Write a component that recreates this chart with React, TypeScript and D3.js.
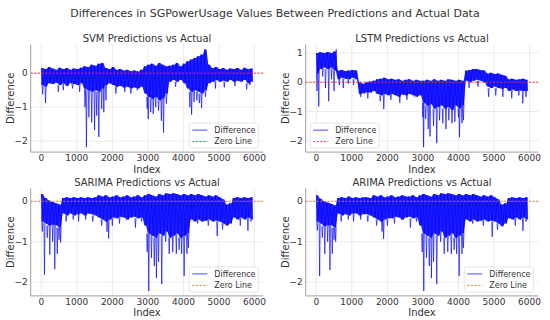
import React, { useEffect, useRef } from "react";
import * as d3 from "d3";

const STEP = 100;
const N_POINTS = 5950;

const svmHi = [
  0.15, 0.12, 0.18, 0.14, 0.1, 0.16, 0.12, 0.15, 0.1, 0.14, 0.12, 0.16,
  0.2, 0.18, 0.25, 0.22, 0.28, 0.3,
  0.15, 0.12, 0.18, 0.1, 0.12, 0.08, 0.1, 0.06, 0.08, 0.05, 0.1,
  0.2, 0.25, 0.28, 0.22, 0.3, 0.25, 0.2,
  0.22, 0.25, 0.3, 0.2, 0.28,
  0.35, 0.4, 0.45, 0.5, 0.55, 0.7,
  0.25, 0.15, 0.18, 0.12, 0.15, 0.1, 0.14, 0.12, 0.15, 0.1, 0.16, 0.12, 0.14,
];
const svmLo = [
  -0.35, -0.4, -0.3, -0.32, -0.28, -0.35, -0.3, -0.38, -0.3, -0.32, -0.35, -0.3,
  -0.45, -0.5, -0.55, -0.5, -0.55, -0.45,
  -0.35, -0.3, -0.35, -0.4, -0.38, -0.42, -0.4, -0.45, -0.42, -0.45, -0.4,
  -0.6, -0.7, -0.75, -0.7, -0.8, -0.75, -0.6,
  -0.25, -0.2, -0.25, -0.2, -0.3,
  -0.45, -0.55, -0.5, -0.55, -0.6, -0.5,
  -0.3, -0.25, -0.2, -0.25, -0.22, -0.25, -0.2, -0.25, -0.22, -0.25, -0.2, -0.3, -0.25,
];
const svmSpikeIdx = [
  40, 120, 480, 620, 880, 1080, 1230, 1270, 1340, 1420, 1500, 1560, 1620, 1700, 1760, 1820,
  2100, 2350, 2520, 2700, 2980, 3010, 3080, 3150, 3220, 3300, 3380, 3440, 3520, 3780,
  4180, 4230, 4300, 4380, 4450, 4510, 4620, 4900, 5150, 5450, 5780, 5870,
];
const svmSpikeVal = [
  -0.62, -0.88, -0.55, -0.5, -0.45, -0.55, -1.0, -2.18, -1.3, -1.45, -1.68, -1.25, -1.88, -1.05, -1.15, -0.8,
  -0.6, -0.55, -0.6, -0.5, -1.05, -1.35, -1.15, -1.2, -1.0, -1.1, -1.4, -1.75, -0.9, -0.4,
  -1.0, -1.22, -0.85, -0.8, -0.88, -1.03, -0.7, -0.45, -0.42, -0.38, -0.48, -0.35,
];

const lstmHi = [
  1.0, 1.02, 1.0, 1.03, 1.0, 1.05,
  0.4, 0.42, 0.38, 0.4, 0.42, 0.4,
  0.0, -0.05, 0.0, 0.02, 0.05,
  0.1, 0.12, 0.15, 0.1, 0.12, 0.08, 0.1, 0.05, 0.08, 0.1, 0.05, 0.08, 0.05,
  0.05, 0.08, 0.05, 0.1, 0.05, 0.08, 0.05, 0.1, 0.08, 0.05, 0.08, 0.05,
  0.4, 0.42, 0.45, 0.45, 0.42, 0.4,
  0.3, 0.32, 0.28, 0.3, 0.25, 0.22,
  0.1, 0.12, 0.08, 0.1, 0.12, 0.08,
];
const lstmLo = [
  0.3, 0.45, 0.5, 0.45, 0.5, 0.4,
  0.1, 0.15, 0.12, 0.1, 0.15, 0.1,
  -0.4, -0.38, -0.35, -0.35, -0.3,
  -0.4, -0.45, -0.4, -0.45, -0.4, -0.45, -0.5, -0.42, -0.45, -0.4, -0.45, -0.5, -0.45,
  -0.7, -0.8, -0.75, -0.9, -0.85, -0.8, -0.9, -0.85, -0.95, -0.8, -0.9, -0.8,
  0.05, 0.0, 0.05, 0.08, 0.05, 0.0,
  -0.15, -0.2, -0.15, -0.2, -0.22, -0.2,
  -0.3, -0.25, -0.3, -0.28, -0.3, -0.3,
];
const lstmSpikeIdx = [
  20, 70, 180, 260, 350, 430, 500, 560, 650, 760, 900, 1050, 1250, 1450,
  1800, 1900, 2100, 2350, 2550, 2750, 3000, 3020, 3080, 3150, 3200, 3300, 3390, 3470,
  3560, 3650, 3730, 3820, 3900, 4000, 4030, 4100, 4140, 4300, 4550, 4850, 5050, 5250,
  5500, 5700, 5810, 5900,
];
const lstmSpikeVal = [
  -0.3, -0.83, 0.2, -0.2, -0.65, 0.1, -0.3, 1.12, -0.1, -0.2, -0.05, -0.1, -0.5, -0.55,
  -0.65, -0.92, -0.6, -0.7, -0.6, -0.5, -1.2, -2.22, -1.25, -1.6, -1.85, -1.5, -2.08, -1.3,
  -1.4, -1.6, -1.3, -1.4, -1.35, -1.2, -1.88, -1.4, -1.3, -0.2, -0.15, -0.5, -0.45, -0.5,
  -0.55, -0.45, -0.72, -0.5,
];

const sarimaHi = [
  0.18, 0.08, 0.02, -0.02, -0.05, -0.08,
  0.08, 0.1, 0.08, 0.1, 0.08, 0.1, 0.08, 0.1, 0.08, 0.1,
  0.15, 0.12, 0.15, 0.1, 0.12, 0.15, 0.1, 0.12, 0.15, 0.1, 0.12, 0.15, 0.1,
  0.15, 0.18, 0.15, 0.12, 0.18, 0.15, 0.2, 0.18, 0.2, 0.18, 0.15, 0.18, 0.15,
  0.18, 0.15, 0.18, 0.15, 0.12, 0.15, 0.12, 0.15, 0.1, 0.05,
  -0.08, -0.05, 0.08, 0.1, 0.08, 0.1, 0.08, 0.1,
];
const sarimaLo = [
  -0.5, -0.55, -0.6, -0.58, -0.6, -0.65,
  -0.3, -0.35, -0.3, -0.35, -0.32, -0.3, -0.35, -0.3, -0.32, -0.35,
  -0.4, -0.45, -0.5, -0.45, -0.4, -0.42, -0.38, -0.4, -0.45, -0.4, -0.38, -0.42, -0.4,
  -0.6, -0.8, -0.85, -0.9, -0.8, -0.85, -0.75, -0.9, -0.85, -0.8, -0.9, -0.85, -0.8,
  -0.45, -0.5, -0.45, -0.5, -0.48, -0.45, -0.5, -0.48, -0.5, -0.55,
  -0.6, -0.55, -0.4, -0.45, -0.4, -0.45, -0.4, -0.45,
];
const sarimaSpikeIdx = [
  30, 90, 170, 240, 320, 380, 450, 500, 545, 700, 900, 1050, 1250, 1450,
  1700, 1850, 1895, 2000, 2200, 2400, 2650, 2820, 2980, 3025, 3100, 3180, 3240, 3300,
  3390, 3500, 3600, 3700, 3800, 3880, 3950, 4020, 4100, 4140, 4400, 4700, 4950, 5100,
  5600, 5815, 5900,
];
const sarimaSpikeVal = [
  -0.75, -1.82, -0.9, -1.32, -1.0, -1.68, -1.3, -0.95, -1.02, -0.5, -0.45, -0.5, -0.45, -0.5,
  -0.6, -0.75, -0.92, -0.6, -0.55, -0.45, -0.65, -0.5, -1.25, -2.22, -1.4, -1.6, -1.9, -1.5,
  -2.05, -1.0, -1.3, -1.25, -1.3, -1.2, -1.3, -1.85, -1.3, -1.15, -0.55, -0.6, -0.86, -0.7,
  -0.6, -0.73, -0.5,
];

const arimaHi = [
  0.15, 0.06, 0.0, -0.03, -0.06, -0.1,
  0.08, 0.1, 0.08, 0.12, 0.08, 0.1, 0.08, 0.1, 0.1, 0.08,
  0.15, 0.12, 0.15, 0.1, 0.12, 0.15, 0.1, 0.12, 0.15, 0.12, 0.12, 0.15, 0.1,
  0.15, 0.18, 0.15, 0.12, 0.18, 0.15, 0.2, 0.18, 0.2, 0.18, 0.15, 0.18, 0.15,
  0.18, 0.15, 0.18, 0.15, 0.12, 0.15, 0.12, 0.15, 0.1, 0.05,
  -0.08, -0.05, 0.08, 0.1, 0.08, 0.1, 0.08, 0.1,
];
const arimaLo = [
  -0.5, -0.55, -0.62, -0.6, -0.6, -0.65,
  -0.3, -0.35, -0.32, -0.35, -0.3, -0.3, -0.35, -0.32, -0.32, -0.35,
  -0.4, -0.45, -0.5, -0.45, -0.42, -0.42, -0.38, -0.4, -0.45, -0.4, -0.38, -0.42, -0.4,
  -0.6, -0.8, -0.85, -0.9, -0.8, -0.85, -0.75, -0.9, -0.85, -0.8, -0.9, -0.85, -0.8,
  -0.45, -0.5, -0.45, -0.5, -0.48, -0.45, -0.5, -0.48, -0.5, -0.55,
  -0.62, -0.55, -0.42, -0.45, -0.4, -0.45, -0.4, -0.45,
];
const arimaSpikeIdx = [
  30, 95, 170, 240, 320, 385, 450, 500, 545, 700, 900, 1050, 1250, 1450,
  1700, 1850, 1895, 2000, 2200, 2400, 2650, 2820, 2980, 3025, 3100, 3180, 3240, 3300,
  3390, 3500, 3600, 3700, 3800, 3880, 3950, 4020, 4100, 4140, 4400, 4700, 4950, 5100,
  5600, 5815, 5900,
];
const arimaSpikeVal = [
  -0.72, -1.85, -0.9, -1.3, -1.0, -1.7, -1.3, -0.95, -1.0, -0.5, -0.45, -0.5, -0.45, -0.5,
  -0.6, -0.75, -0.93, -0.6, -0.55, -0.45, -0.65, -0.5, -1.25, -2.22, -1.4, -1.6, -1.9, -1.5,
  -2.05, -1.0, -1.3, -1.25, -1.3, -1.2, -1.3, -1.85, -1.3, -1.15, -0.55, -0.6, -0.88, -0.7,
  -0.6, -0.73, -0.5,
];

const X_TICKS = [0, 1000, 2000, 3000, 4000, 5000, 6000];
const Y_TICKS = [-2, -1, 0, 1];

const panels = [
  { title: "SVM Predictions vs Actual", hi: svmHi, lo: svmLo, sIdx: svmSpikeIdx, sVal: svmSpikeVal, col: 0, row: 0, legend: "right", zero: "#ff2a2a" },
  { title: "LSTM Predictions vs Actual", hi: lstmHi, lo: lstmLo, sIdx: lstmSpikeIdx, sVal: lstmSpikeVal, col: 1, row: 0, legend: "left", zero: "#ff2a2a" },
  { title: "SARIMA Predictions vs Actual", hi: sarimaHi, lo: sarimaLo, sIdx: sarimaSpikeIdx, sVal: sarimaSpikeVal, col: 0, row: 1, legend: "right", zero: "#c8823c" },
  { title: "ARIMA Predictions vs Actual", hi: arimaHi, lo: arimaLo, sIdx: arimaSpikeIdx, sVal: arimaSpikeVal, col: 1, row: 1, legend: "right", zero: "#c8823c" },
];

const TEXT = "#333";
const FONT = "DejaVu Sans, sans-serif";

const App = () => {
  const ref = useRef<SVGSVGElement>(null);

  useEffect(() => {
    const svg = d3.select(ref.current);
    svg.selectAll("*").remove();

    const colLeft = [30.7, 305.7];
    const rowTop = [44.5, 188.3];
    const axW = 232.6;
    const axH = 107.6;

    svg.append("text")
      .attr("x", 275).attr("y", 16.5)
      .attr("text-anchor", "middle")
      .attr("font-size", 11)
      .attr("fill", TEXT)
      .text("Differences in SGPowerUsage Values Between Predictions and Actual Data");

    const fmt = (d: number) => (d < 0 ? "\u2212" + Math.abs(d) : String(d));

    panels.forEach((p, pi) => {
      const g = svg.append("g")
        .attr("transform", `translate(${colLeft[p.col]},${rowTop[p.row]})`);

      const xPad = N_POINTS * 0.05;
      const x = d3.scaleLinear().domain([-xPad, N_POINTS + xPad]).range([0, axW]);
      const [mn, mx] = d3.extent([...p.hi, ...p.lo, ...p.sVal]) as [number, number];
      const yPad = (mx - mn) * 0.05;
      const y = d3.scaleLinear().domain([mn - yPad, mx + yPad]).range([axH, 0]);

      // grid
      const grid = g.append("g").attr("stroke", "#e6e6e6").attr("stroke-width", 0.8);
      grid.selectAll("line.gx").data(X_TICKS).join("line")
        .attr("x1", d => x(d)).attr("x2", d => x(d)).attr("y1", 0).attr("y2", axH);
      const yt = Y_TICKS.filter(d => d >= y.domain()[0] && d <= y.domain()[1]);
      grid.selectAll("line.gy").data(yt).join("line")
        .attr("x1", 0).attr("x2", axW).attr("y1", d => y(d)).attr("y2", d => y(d));

      const clipId = `clip-${pi}`;
      g.append("clipPath").attr("id", clipId)
        .append("rect").attr("width", axW).attr("height", axH);
      const plot = g.append("g").attr("clip-path", `url(#${clipId})`);

      // spikes drawn first, dense band on top
      const line = d3.line<[number, number]>().x(d => x(d[0])).y(d => y(d[1]));
      const spikes = p.sIdx.map((idx, k) => {
        const b = Math.max(0, Math.min(p.hi.length - 1, Math.round(idx / STEP)));
        const v = p.sVal[k];
        const base = v > p.hi[b] ? p.hi[b] : p.lo[b];
        return [[idx - 15, base], [idx, v], [idx + 15, base]] as [number, number][];
      });
      plot.append("g").selectAll("path").data(spikes).join("path")
        .attr("d", line)
        .attr("fill", "none")
        .attr("stroke", "#0000ff")
        .attr("stroke-width", 1)
        .attr("stroke-opacity", 0.65);

      const zig: [number, number][] = [];
      p.hi.forEach((h, i) => {
        zig.push([i * STEP, h]);
        zig.push([i * STEP + STEP / 2, p.lo[i]]);
      });
      const area = d3.area<[number, number]>()
        .x(d => x(d[0]))
        .y0((_, i) => y(p.lo[Math.floor(i / 2)]))
        .y1((d, i) => y(i % 2 === 0 ? d[1] : p.hi[Math.floor(i / 2)]));
      plot.append("path").datum(zig)
        .attr("d", area)
        .attr("fill", "#0000ff")
        .attr("fill-opacity", 0.88);
      plot.append("path").datum(zig)
        .attr("d", line)
        .attr("fill", "none")
        .attr("stroke", "#0000ff")
        .attr("stroke-width", 0.9)
        .attr("stroke-opacity", 0.7);

      // zero line
      g.append("line")
        .attr("x1", 0).attr("x2", axW)
        .attr("y1", y(0)).attr("y2", y(0))
        .attr("stroke", p.zero)
        .attr("stroke-width", 0.9)
        .attr("stroke-dasharray", "2.2,1.4");

      // spines
      g.append("line").attr("x1", 0).attr("x2", 0).attr("y1", 0).attr("y2", axH)
        .attr("stroke", "#888").attr("stroke-width", 0.8);
      g.append("line").attr("x1", 0).attr("x2", axW).attr("y1", axH).attr("y2", axH)
        .attr("stroke", "#888").attr("stroke-width", 0.8);

      // ticks
      g.append("g").selectAll("text").data(X_TICKS).join("text")
        .attr("x", d => x(d)).attr("y", axH + 9.3)
        .attr("text-anchor", "middle")
        .attr("font-size", 9).attr("fill", TEXT)
        .text(d => String(d));
      g.append("g").selectAll("text").data(yt).join("text")
        .attr("x", -3).attr("y", d => y(d) + 3.2)
        .attr("text-anchor", "end")
        .attr("font-size", 9).attr("fill", TEXT)
        .text(d => fmt(d));

      // labels
      g.append("text")
        .attr("x", axW / 2).attr("y", -2.2)
        .attr("text-anchor", "middle")
        .attr("font-size", 10).attr("fill", TEXT)
        .text(p.title);
      g.append("text")
        .attr("x", axW / 2).attr("y", axH + 20.6)
        .attr("text-anchor", "middle")
        .attr("font-size", 10).attr("fill", TEXT)
        .text("Index");
      g.append("text")
        .attr("transform", `translate(-17,${axH / 2}) rotate(-90)`)
        .attr("text-anchor", "middle")
        .attr("font-size", 10).attr("fill", TEXT)
        .text("Difference");

      // legend
      const boxW = 69, boxH = 25;
      const lx = p.legend === "right" ? axW - 5 - boxW : 4.5;
      const ly = axH - 4 - boxH;
      const lg = g.append("g").attr("transform", `translate(${lx},${ly})`);
      lg.append("rect")
        .attr("width", boxW).attr("height", boxH)
        .attr("rx", 2)
        .attr("fill", "white").attr("fill-opacity", 0.85)
        .attr("stroke", "#ddd").attr("stroke-width", 0.7);
      lg.append("line").attr("x1", 3).attr("x2", 18).attr("y1", 7).attr("y2", 7)
        .attr("stroke", "#0000ff").attr("stroke-opacity", 0.6).attr("stroke-width", 1.2);
      lg.append("line").attr("x1", 3).attr("x2", 18).attr("y1", 18.5).attr("y2", 18.5)
        .attr("stroke", p.zero).attr("stroke-width", 0.9).attr("stroke-dasharray", "2.2,1.4");
      lg.append("text").attr("x", 25).attr("y", 9.8)
        .attr("font-size", 8).attr("fill", TEXT).text("Difference");
      lg.append("text").attr("x", 25).attr("y", 21.3)
        .attr("font-size", 8).attr("fill", TEXT).text("Zero Line");
    });
  }, []);

  return (
    <svg
      ref={ref}
      width={550}
      height={320}
      style={{ position: "absolute", left: 0, top: 0, background: "white", fontFamily: FONT }}
    />
  );
};

export default App;
